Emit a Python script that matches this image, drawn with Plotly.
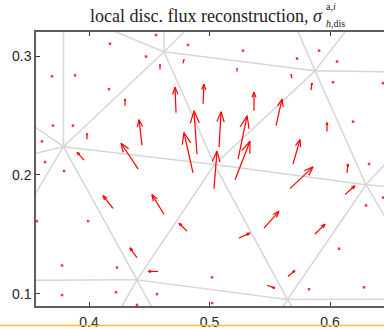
import numpy as np
import plotly.graph_objects as go
import plotly.figure_factory as ff

# ---- mesh (vertex coordinates and edges) ----
node_x = [0.3788, 0.4622, 0.5876, 0.5041, 0.6299, 0.4398, 0.5647,
          0.3788, 0.3261, 0.3261, 0.3261, 0.4622, 0.4954, 0.5664, 0.6249,
          0.6996, 0.6747, 0.6913, 0.6747, 0.3261, 0.4149, 0.4631, 0.6996,
          0.5460, 0.5826]
node_y = [0.2237, 0.3037, 0.2876, 0.2087, 0.1917, 0.1116, 0.0950,
          0.3386, 0.2610, 0.2112, 0.1344, 0.3469, 0.3369, 0.3369, 0.3369,
          0.2863, 0.2415, 0.1863, 0.1145, 0.1112, 0.0676, 0.0676, 0.0954,
          0.0680, 0.0680]
edge_a = [0, 0, 0, 0, 0, 0, 0, 1, 1, 1, 1, 1, 2, 2, 2, 2, 2, 3, 3, 3,
          4, 4, 4, 4, 5, 5, 5, 5, 6, 6, 6]
edge_b = [7, 8, 9, 10, 1, 3, 5, 7, 11, 12, 2, 3, 13, 14, 15, 3, 4, 4, 5, 6,
          16, 17, 18, 6, 19, 20, 21, 6, 22, 23, 24]

# ---- flux arrows (tail position and vector) ----
arrow_x = [0.4589, 0.4299, 0.3983, 0.4440, 0.4407, 0.3959, 0.4199, 0.4622,
           0.4398, 0.4573, 0.4813, 0.4780, 0.5228, 0.4722, 0.4946, 0.5369,
           0.5552, 0.4896, 0.5079, 0.5237, 0.4863, 0.5212, 0.5037, 0.5693,
           0.5975, 0.5668, 0.6141, 0.6124, 0.5452, 0.5245, 0.5876, 0.5651,
           0.5477, 0.5685, 0.5842]
arrow_y = [0.2888, 0.2581, 0.2299, 0.2249, 0.2050, 0.2124, 0.1718, 0.1668,
           0.1303, 0.1187, 0.1527, 0.2938, 0.2871, 0.2523, 0.2598, 0.2539,
           0.2415, 0.2174, 0.2232, 0.2133, 0.2017, 0.1959, 0.1884, 0.2091,
           0.2365, 0.1884, 0.2017, 0.1834, 0.1552, 0.1469, 0.1502, 0.1145,
           0.1071, 0.2813, 0.2714]
arrow_u = [0.0, 0.0, 0.0, -0.0025, -0.0141, -0.0058, -0.0083, -0.0100,
           -0.0058, -0.0083, -0.0066, 0.0008, 0.0, -0.0008, 0.0008, 0.0,
           0.0050, -0.0025, 0.0017, 0.0075, -0.0075, 0.0124, 0.0025, 0.0058,
           0.0, 0.0191, 0.0008, 0.0083, 0.0124, 0.0091, 0.0083, 0.0058,
           0.0066, -0.0008, 0.0008]
arrow_v = [0.0041, 0.0058, 0.0050, 0.0216, 0.0216, 0.0066, 0.0108, 0.0166,
           0.0083, 0.0, 0.0066, 0.0033, 0.0025, 0.0216, 0.0166, 0.0158,
           0.0224, 0.0365, 0.0299, 0.0365, 0.0340, 0.0324, 0.0315, 0.0207,
           0.0075, 0.0183, 0.0075, 0.0075, 0.0141, 0.0041, 0.0083, 0.0050,
           -0.0025, 0.0033, 0.0058]

# ---- near-zero flux points ----
dot_x = [0.4556, 0.4174, 0.4822, 0.5278, 0.5909, 0.4473, 0.5726, 0.6058,
         0.3693, 0.3884, 0.6025, 0.6440, 0.4166, 0.6191, 0.3701, 0.3867,
         0.3610, 0.3635, 0.3793, 0.6324, 0.6299, 0.6440, 0.3568, 0.3992,
         0.3776, 0.4232, 0.6075, 0.5021, 0.5826, 0.6282, 0.3776, 0.4224,
         0.4564, 0.4398, 0.5021]
dot_y = [0.3178, 0.3104, 0.3095, 0.3046, 0.3046, 0.2996, 0.2979, 0.2954,
         0.2830, 0.2838, 0.2780, 0.2772, 0.2722, 0.2448, 0.2415, 0.2415,
         0.2282, 0.2108, 0.2033, 0.2091, 0.1743, 0.1809, 0.1610, 0.1610,
         0.1237, 0.1220, 0.1378, 0.1137, 0.1037, 0.1054, 0.0988, 0.1012,
         0.0996, 0.0905, 0.0921]

x_ticks = [0.4, 0.5, 0.6]
x_ticktext = ["0.4", "0.5", "0.6"]
y_ticks = [0.1, 0.2, 0.3]
y_ticktext = ["0.1", "0.2", "0.3"]
title_main = "local disc. flux reconstruction, <i>σ</i>"
title_sup = "a,<i>i</i>"
title_sub = "<i>h</i>,dis"

# ---- build figure ----
mx, my = [], []
for a, b in zip(edge_a, edge_b):
    mx += [node_x[a], node_x[b], None]
    my += [node_y[a], node_y[b], None]

fig = go.Figure()
fig.add_trace(go.Scatter(x=mx, y=my, mode="lines",
                         line=dict(color="#d6d6d6", width=1.5),
                         hoverinfo="skip", showlegend=False))

q = ff.create_quiver(arrow_x, arrow_y, arrow_u, arrow_v, scale=1,
                     arrow_scale=0.3, angle=np.pi / 9,
                     line=dict(color="#ff0000", width=1.2))
for tr in q.data:
    tr.showlegend = False
    fig.add_trace(tr)

fig.add_trace(go.Scatter(x=dot_x, y=dot_y, mode="markers",
                         marker=dict(color="rgba(255,0,0,0.8)", size=2.5,
                                     symbol="square", line=dict(width=0)),
                         showlegend=False))

axis_common = dict(showgrid=False, zeroline=False, showline=True,
                   linecolor="#5e5e5e", linewidth=1.5, ticks="inside",
                   ticklen=4, tickcolor="#3a3a3a", tickwidth=1,
                   tickfont=dict(family="Liberation Sans", size=14,
                                 color="#262626"))

fig.update_layout(
    width=384, height=330,
    margin=dict(l=36, r=0, t=32, b=20),
    plot_bgcolor="white", paper_bgcolor="white",
    xaxis=dict(range=[0.3560, 0.6448], tickvals=x_ticks,
               ticktext=x_ticktext, mirror="ticks", ticklabelstandoff=2,
               **axis_common),
    yaxis=dict(range=[0.0896, 0.3203], tickvals=y_ticks,
               ticktext=y_ticktext, mirror=False, **axis_common),
    annotations=[
        dict(text=title_main, xref="paper", yref="paper", x=0.8305,
             y=1.0594, xanchor="right", yanchor="middle", showarrow=False,
             font=dict(family="Liberation Serif", size=18, color="#222")),
        dict(text=title_sup, xref="paper", yref="paper", x=0.8276,
             y=1.0946, xanchor="left", yanchor="middle", showarrow=False,
             font=dict(family="Liberation Serif", size=10, color="#222")),
        dict(text=title_sub, xref="paper", yref="paper", x=0.8276,
             y=1.0299, xanchor="left", yanchor="middle", showarrow=False,
             font=dict(family="Liberation Serif", size=10, color="#222")),
    ],
    shapes=[dict(type="line", xref="paper", yref="paper", x0=-0.2, x1=1.2,
                 y0=-0.0715, y1=-0.0715,
                 line=dict(color="#f2c230", width=1.5))],
)

fig.write_html("out.html")
